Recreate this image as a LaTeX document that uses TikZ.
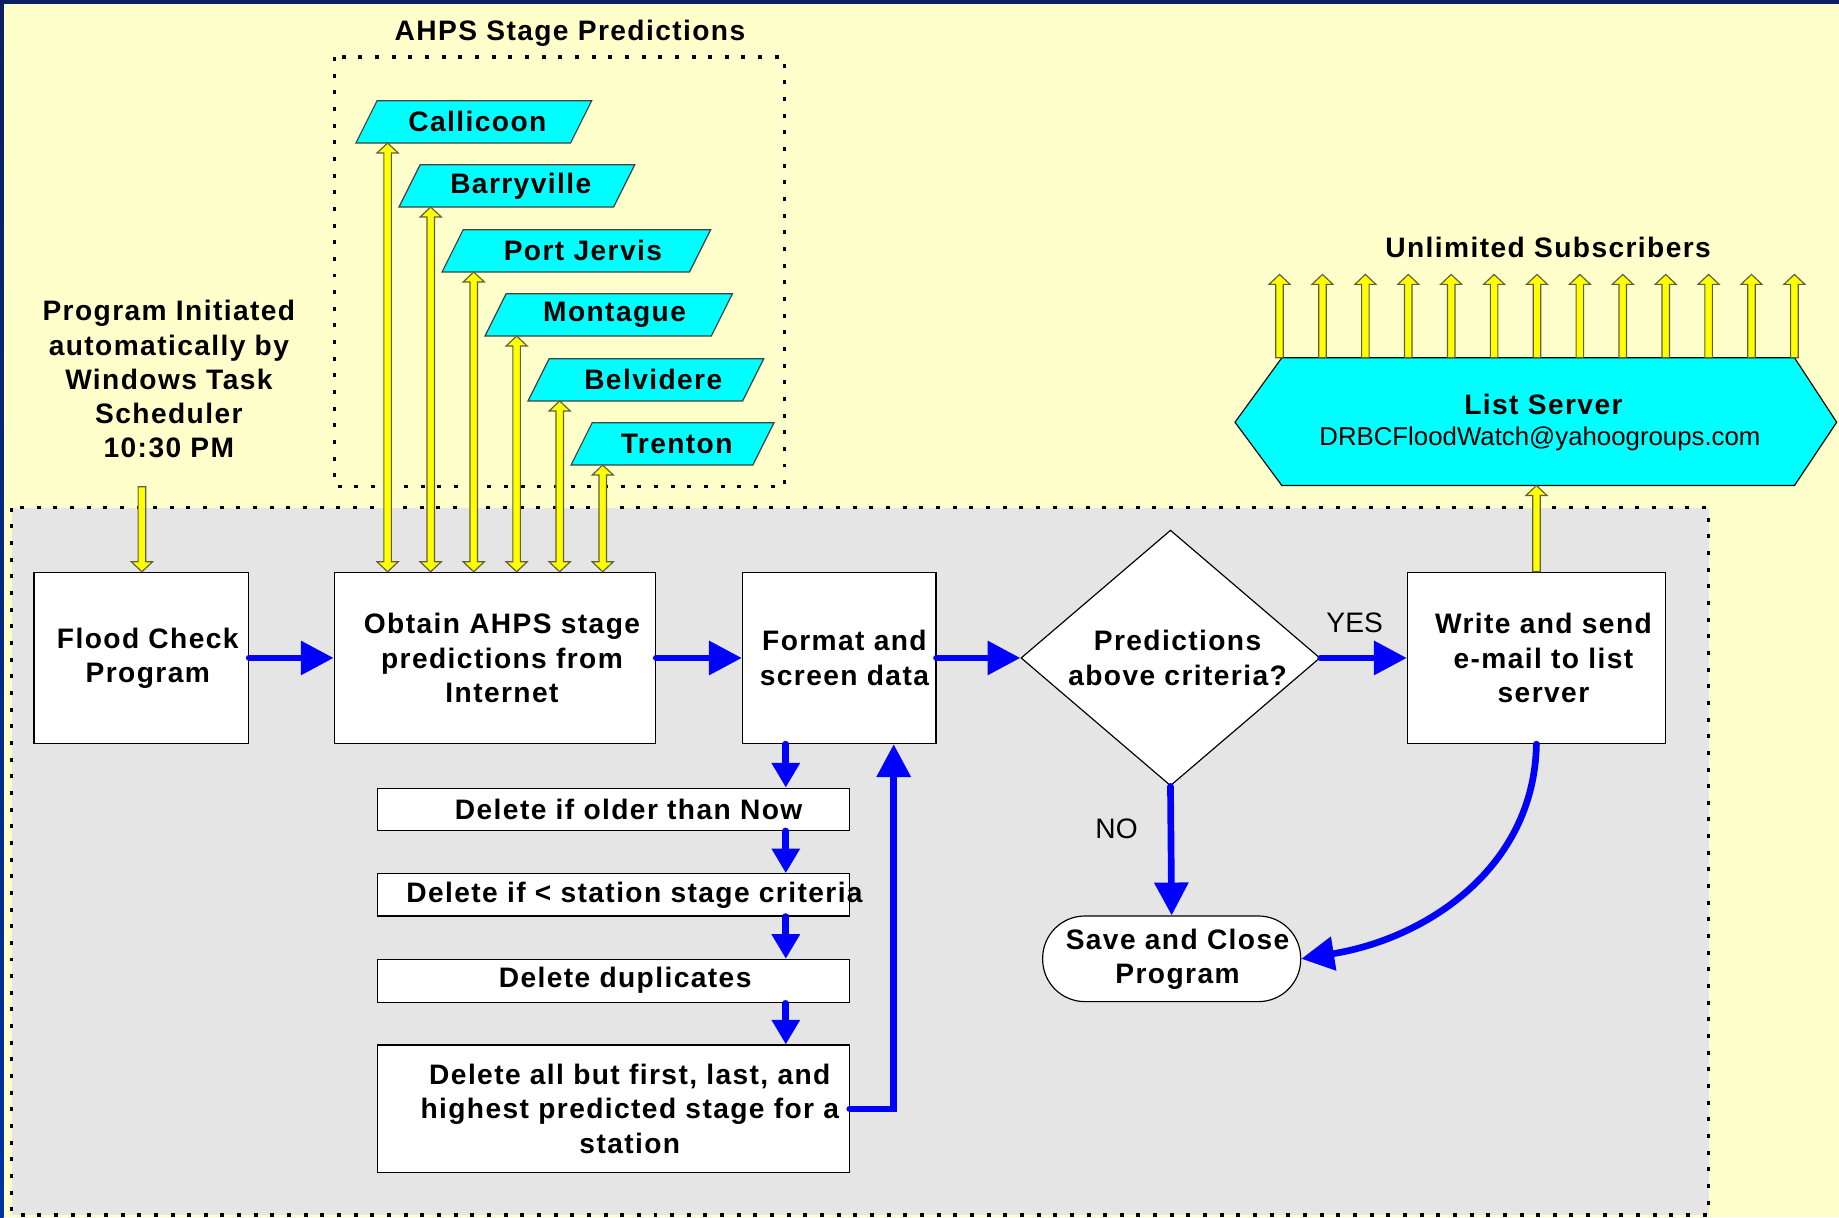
\documentclass[tikz,border=0pt]{standalone}
\usepackage{fontspec}
\setmainfont{Liberation Sans}
\newfontfamily\lblfont[LetterSpace=5]{Liberation Sans}
\usetikzlibrary{arrows.meta,shapes.geometric,calc}
\definecolor{bgyellow}{HTML}{FFFFCC}
\definecolor{panelgray}{HTML}{E5E5E5}
\definecolor{cyanfill}{HTML}{00FFFF}
\definecolor{flowblue}{HTML}{0000FF}
\definecolor{arrowyellow}{HTML}{FFFF00}
\definecolor{arrowedge}{HTML}{5F5F3F}
\definecolor{navyframe}{HTML}{0A2060}
\definecolor{blueframe}{HTML}{0033A0}
\tikzset{
  lbltext/.style={inner sep=0pt, align=center, font=\lblfont\bfseries\fontsize{12}{14.6}\selectfont},
  box/.style={draw=black, line width=0.5pt, fill=white, inner sep=0pt},
  plaintext/.style={inner sep=0pt, font=\fontsize{12}{14.6}\selectfont},
  flow/.style={draw=flowblue, line width=2.85pt, line cap=round, -{Triangle[length=14pt,width=14pt]}},
  smallflow/.style={flow, -{Triangle[length=10.5pt,width=11.5pt]}},
  ybar/.style={draw=arrowedge, fill=arrowyellow, line width=0.5pt, line join=miter},
  para/.style={draw=black!75, fill=cyanfill, line width=0.5pt},
  dots/.style={draw=black, line width=1.4pt, dash pattern=on 1.7pt off 5.4pt},
}
\newcommand{\yblockdouble}[2]{%
  \path[ybar] let \p1=(#1), \p2=(#2) in
    (\x2,\y2) -- (\x2+4.5pt,\y2-4.25pt) -- (\x2+1.6pt,\y2-4.25pt)
    -- (\x1+1.6pt,\y1+4.25pt) -- (\x1+4.5pt,\y1+4.25pt) -- (\x1,\y1)
    -- (\x1-4.5pt,\y1+4.25pt) -- (\x1-1.6pt,\y1+4.25pt)
    -- (\x2-1.6pt,\y2-4.25pt) -- (\x2-4.5pt,\y2-4.25pt) -- cycle;}
\newcommand{\yblockup}[2]{%
  \path[ybar] let \p1=(#1), \p2=(#2) in
    (\x2,\y2) -- (\x2+4.5pt,\y2-4.25pt) -- (\x2+1.6pt,\y2-4.25pt)
    -- (\x1+1.6pt,\y1) -- (\x1-1.6pt,\y1)
    -- (\x2-1.6pt,\y2-4.25pt) -- (\x2-4.5pt,\y2-4.25pt) -- cycle;}
\newcommand{\yblockdown}[2]{%
  \path[ybar] let \p1=(#1), \p2=(#2) in
    (\x2,\y2) -- (\x2+4.5pt,\y2+4.25pt) -- (\x2+1.6pt,\y2+4.25pt)
    -- (\x1+1.6pt,\y1) -- (\x1-1.6pt,\y1)
    -- (\x2-1.6pt,\y2+4.25pt) -- (\x2-4.5pt,\y2+4.25pt) -- cycle;}
\newcommand{\station}[6]{%
  \draw[para] (#2,#3) -- ++(#4,0) -- ++(18,-36) -- ++(-#4,0) -- cycle;
  \node[lbltext] (#1) at (#5,{#3-18}) {#6};
  \coordinate (#1-foot) at ({#2+27},#3);}
\begin{document}
\begin{tikzpicture}[x=0.5pt,y=-0.5pt]
\useasboundingbox (0,0) rectangle (1568,1038);
\fill[bgyellow] (0,0) rectangle (1568,1038);
\shade[top color=navyframe, bottom color=blueframe] (0,0) rectangle (3,1038);
\fill[navyframe] (0,0) rectangle (1568,3.4);

% panels
\draw[dots, fill=panelgray] (10,433) rectangle (1457,1036);
\draw[dots] (285,48.6) rectangle (669,415);
\node[lbltext] (ahps) at (486,28) {AHPS Stage Predictions};

% stations
\station{callicoon}{303.5}{121.9}{183}{407}{Callicoon}
\station{barryville}{340.2}{176.5}{183}{444}{Barryville}
\station{portjervis}{376.9}{231.9}{211}{497}{Port Jervis}
\station{montague}{413.5}{286.5}{193}{524}{Montague}
\station{belvidere}{450.2}{341.9}{183}{557}{Belvidere}
\station{trenton}{486.9}{396.5}{155}{577}{Trenton}

% program initiation text
\node[lbltext] (init) at (144,323.5) {Program Initiated\\automatically by\\Windows Task\\Scheduler\\10:30 PM};
\coordinate (trig) at (121,415);

% main boxes
\node[box, minimum width=91.5pt, minimum height=73pt] (flood) at (120.5,561) {};
\node[lbltext] (floodtext) at (126,561) {Flood Check\\Program};
\node[box, minimum width=137pt, minimum height=73pt] (obtain) at (422,561) {};
\node[lbltext] (obtaintext) at (428,561) {Obtain AHPS stage\\predictions from\\Internet};
\node[box, minimum width=82.5pt, minimum height=73pt] (format) at (715.5,561) {};
\node[lbltext] (formattext) at (720,561) {Format and\\screen data};
\node[box, diamond, minimum width=127.5pt, minimum height=109pt] (dec) at (998,561) {};
\node[lbltext] (dectext) at (1004,561) {Predictions\\above criteria?};
\node[box, minimum width=110pt, minimum height=73pt] (write) at (1310,561) {};
\node[lbltext] (writetext) at (1316,561) {Write and send\\e-mail to list\\server};
\node[box, rounded corners=18pt, minimum width=110pt, minimum height=36.5pt] (save) at (999,817.5) {};
\node[lbltext] (savetext) at (1004,818) {Save and Close\\Program};

% delete boxes
\node[box, minimum width=201pt, minimum height=18pt] (d1) at (523,690) {};
\node[box, minimum width=201pt, minimum height=18pt] (d2) at (523,763) {};
\node[box, minimum width=201pt, minimum height=18.5pt] (d3) at (523,836.5) {};
\node[box, minimum width=201pt, minimum height=54.5pt] (d4) at (523,945.5) {};
\node[lbltext] (d1text) at (536,690) {Delete if older than Now};
\node[lbltext] (d2text) at (541,763) {Delete if < station stage criteria};
\node[lbltext] (d3text) at (533,836) {Delete duplicates};
\node[lbltext] (d4text) at (537,945.5) {Delete all but first, last, and\\highest predicted stage for a\\station};

% list server
\coordinate (lstop) at (1310,305);
\coordinate (lsbot) at (1310,414);
\draw[line width=0.5pt, fill=cyanfill] (1053,360) -- (1093,305) -- (1530,305) -- (1566,360) -- (1530,414) -- (1093,414) -- cycle;
\node[lbltext] (ls1) at (1316,345) {List Server};
\node[inner sep=0pt, font=\fontsize{11}{13}\selectfont] (ls2) at (1313,374) {DRBCFloodWatch@yahoogroups.com};
\node[lbltext] (subs) at (1320,211) {Unlimited Subscribers};

% yellow block arrows
\yblockdown{trig}{trig |- flood.north}
\foreach \s in {callicoon,barryville,portjervis,montague,belvidere,trenton}{
  \yblockdouble{\s-foot |- obtain.north}{\s-foot}
}
\yblockup{write.north}{lsbot}
\foreach \i in {0,...,12}{
  \coordinate (sub\i) at ({1091+36.58*\i},234);
  \yblockup{sub\i |- lstop}{sub\i}
}

% blue flow
\draw[flow] (flood.east) -- (obtain.west);
\draw[flow] (obtain.east) -- (format.west);
\draw[flow] (format.east) -- (dec.west);
\draw[flow] (dec.east) -- (write.west);
\node[plaintext] (yes) at (1155,531) {YES};
\draw[flow] (dec.south) -- (save.north);
\node[plaintext] (no) at (952,707) {NO};
\draw[flow] (write.south) .. controls ($(write.south)+(-2,106)$) and ($(save.east)+(106,-17)$) .. (save.east);
\coordinate (dx) at (670,0);
\coordinate (rx) at (762,0);
\draw[smallflow] (format.south -| dx) -- (d1.north -| dx);
\draw[smallflow] (d1.south -| dx) -- (d2.north -| dx);
\draw[smallflow] (d2.south -| dx) -- (d3.north -| dx);
\draw[smallflow] (d3.south -| dx) -- (d4.north -| dx);
\draw[flow] (d4.east) -| (format.south -| rx);
\end{tikzpicture}
\end{document}
